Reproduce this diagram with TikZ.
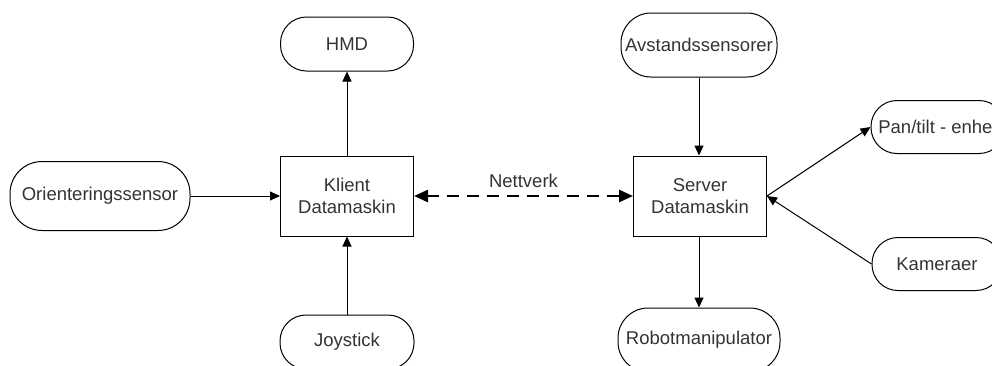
\documentclass[tikz,border=0pt]{standalone}
\usepackage{fontspec}
\setmainfont{Liberation Sans}
\usetikzlibrary{arrows.meta}
\definecolor{txt}{HTML}{333333}
\begin{document}
\begin{tikzpicture}[x=1pt,y=-1pt, line width=1pt,
  every node/.style={font=\fontsize{18.5}{22}\selectfont, text=txt, align=center, inner sep=0pt},
  term/.style={draw=black, rounded corners=#1},
  term/.default=26pt,
  box/.style={draw=black, minimum width=133pt, minimum height=80pt},
  arr/.style={-{Triangle[length=10pt,width=9pt]}},
  netarr/.style={{Triangle[length=14pt,width=12pt]}-{Triangle[length=14pt,width=12pt]}, line width=2.5pt, dash pattern=on 12pt off 8pt},
]
\useasboundingbox (0,0) rectangle (992,365);
\clip (0,0) rectangle (992,365);

\node[term, minimum width=133pt, minimum height=54pt] (hmd) at (347,44) {HMD};
\node[box] (klient) at (347,196) {Klient\\Datamaskin};
\node[term=32pt, minimum width=180pt, minimum height=69pt] (orient) at (100,196) {Orienteringssensor};
\node[term, minimum width=134pt, minimum height=54pt] (joy) at (347,342) {Joystick};
\node[box] (server) at (700,196) {Server\\Datamaskin};
\node[term=30pt, minimum width=156pt, minimum height=64pt] (avst) at (699,45) {Avstandssensorer};
\node[term=30pt, minimum width=162pt, minimum height=64pt] (robot) at (699,340) {Robotmanipulator};
\node[term, minimum width=134pt, minimum height=53pt] (pan) at (938,127) {Pan/tilt - enhet};
\node[term, minimum width=130pt, minimum height=53pt] (kam) at (937,264) {Kameraer};

\draw[arr] (klient.north) -- (hmd.south);
\draw[arr] (orient.east) -- (klient.west);
\draw[arr] (joy.north) -- (klient.south);
\draw[arr] (avst.south) -- (avst.south |- server.north);
\draw[arr] (robot.north |- server.south) -- (robot.north);
\draw[arr] (server.east) -- (pan.west);
\draw[arr] (kam.west) -- (server.east);
\draw[netarr] (klient.east) -- node[above=7pt] {Nettverk} (server.west);
\end{tikzpicture}
\end{document}
